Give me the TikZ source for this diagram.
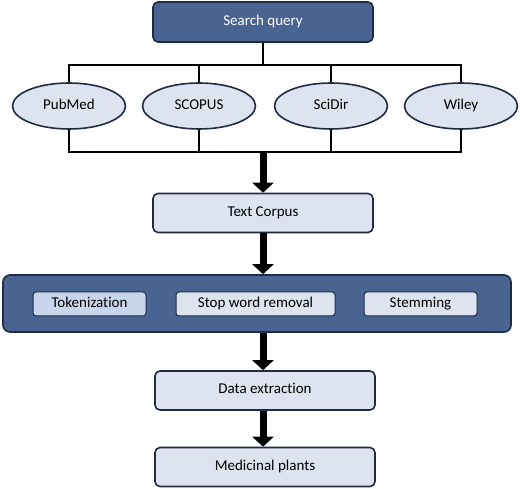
\documentclass[tikz,border=0pt]{standalone}
\usepackage{fontspec}
\setmainfont{Carlito}[Ligatures=NoCommon]
\usetikzlibrary{shapes.geometric,arrows.meta}
\definecolor{navy}{HTML}{1F2B45}
\definecolor{darkblue}{HTML}{4A6491}
\definecolor{paleblue}{HTML}{DDE3EF}
\definecolor{tokblue}{HTML}{C9D5EC}
\begin{document}
\begin{tikzpicture}[x=1pt, y=-1pt,
    font=\fontsize{15}{17}\selectfont, text height=10pt, text depth=3pt,
    darkbox/.style={draw=navy, line width=1.6pt, rounded corners=5pt, fill=darkblue, text=white, minimum width=220pt, minimum height=40pt, inner sep=0pt},
    lightbox/.style={draw=navy, line width=1.6pt, rounded corners=5pt, fill=paleblue, minimum width=220pt, minimum height=39pt, inner sep=0pt},
    source/.style={ellipse, draw=navy, line width=1.6pt, fill=paleblue, minimum width=113pt, minimum height=46pt, inner sep=0pt},
    stepbox/.style={draw=navy, line width=1pt, rounded corners=3pt, fill=paleblue, minimum height=24pt, inner sep=0pt},
    tree/.style={line width=1.8pt, black},
    bigarrow/.style={line width=7pt, draw=black, -{Triangle[length=10pt, width=21pt]}}]
    \useasboundingbox (0,0) rectangle (520,489);

    \node [darkbox] (query) at (263, 22) {Search query};

    \coordinate (top) at (263, 65);
    \coordinate (bot) at (263, 152);

    \node [source] (pubmed) at (69, 106) {PubMed};
    \node [source] (scopus) at (199, 106) {SCOPUS};
    \node [source] (scidir) at (331, 106) {SciDir};
    \node [source] (wiley) at (461, 106) {Wiley};

    \draw [tree] (query) to (top);
    \draw [tree] (pubmed.north) |- (top);
    \draw [tree] (scopus.north) |- (top);
    \draw [tree] (scidir.north) |- (top);
    \draw [tree] (wiley.north) |- (top);

    \draw [tree] (pubmed.south) |- (bot);
    \draw [tree] (scopus.south) |- (bot);
    \draw [tree] (scidir.south) |- (bot);
    \draw [tree] (wiley.south) |- (bot);

    \node [lightbox] (corpus) at (263, 213) {Text Corpus};
    \draw [bigarrow] (bot) to (corpus.north);

    \node [darkbox, minimum width=508pt, minimum height=57pt, rounded corners=7pt] (prep) at (257, 303.5) {};
    \node [stepbox, fill=tokblue, minimum width=113pt] (token) at (89.5, 304) {Tokenization};
    \node [stepbox, minimum width=159pt] (stop) at (255.5, 304) {Stop word removal};
    \node [stepbox, minimum width=113pt] (stem) at (420.5, 304) {Stemming};
    \draw [bigarrow] (corpus) to (prep.north -| corpus);

    \node [lightbox] (extract) at (265, 390.5) {Data extraction};
    \draw [bigarrow] (prep.south -| corpus) to (extract.north -| corpus);

    \node [lightbox] (plants) at (265, 467) {Medicinal plants};
    \draw [bigarrow] (extract.south -| corpus) to (plants.north -| corpus);

\end{tikzpicture}
\end{document}
